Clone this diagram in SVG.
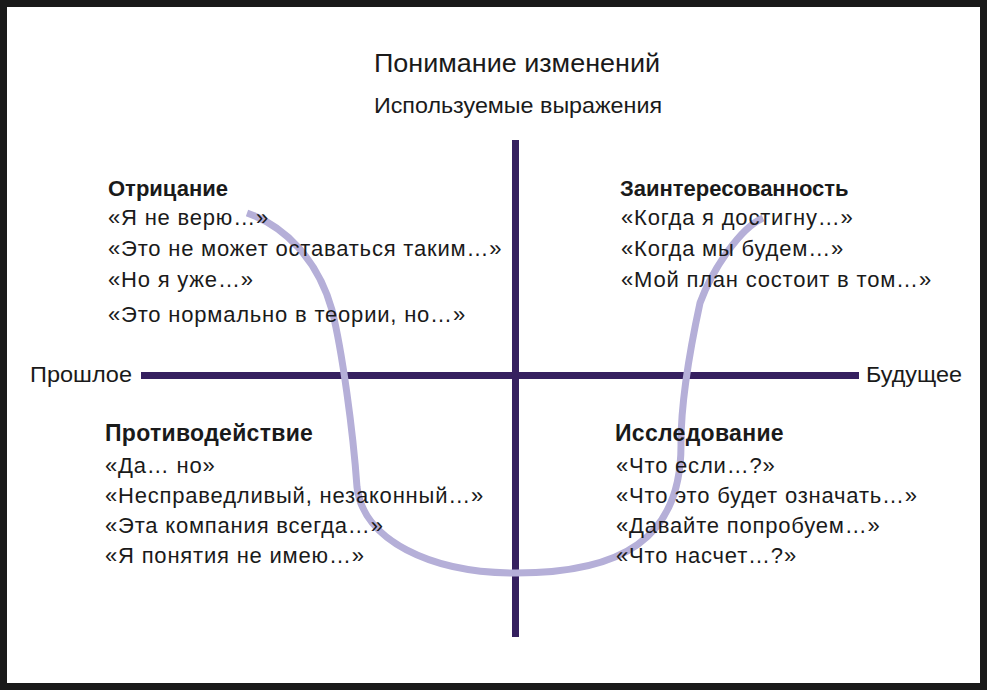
<svg xmlns="http://www.w3.org/2000/svg" width="987" height="690" viewBox="0 0 987 690">
<style>
.t{font-family:"Liberation Sans",Arial,sans-serif;font-size:22px;letter-spacing:0.8px;fill:#1a1a1a}
.h{font-family:"Liberation Sans",Arial,sans-serif;font-size:22px;font-weight:bold;fill:#1a1a1a}
.hb{font-family:"Liberation Sans",Arial,sans-serif;font-size:23px;font-weight:bold;letter-spacing:0.3px;fill:#1a1a1a}
.c{font-family:"Liberation Sans",Arial,sans-serif;fill:#1a1a1a}
.axis{stroke:#35205f;stroke-width:7;fill:none}
.curve{stroke:#b5afd8;stroke-width:7;fill:none;stroke-linecap:butt}
</style>
<rect x="3.5" y="3.5" width="980" height="683" fill="#ffffff" stroke="#1a1a1a" stroke-width="7"/>
<g id="title">
<text class="c" x="517" y="72" font-size="25" text-anchor="middle" textLength="286" lengthAdjust="spacingAndGlyphs">Понимание изменений</text>
<text class="c" x="518" y="113" font-size="22" text-anchor="middle" textLength="288" lengthAdjust="spacingAndGlyphs">Используемые выражения</text>
</g>
<g id="connectors">
<line class="axis" x1="515.5" y1="140" x2="515.5" y2="637"/>
<line class="axis" x1="141" y1="375.5" x2="859" y2="375.5"/>
<path class="curve" d="M247,213 C285,226 318,260 332,310 C342,350 353,430 357,487 C363,540 430,573 516,573 C620,573 682,540 681,443 C681,400 692,340 700,303 C712,270 740,228 763,218"/>
</g>
<g id="axis-labels">
<text class="c" x="30" y="382" font-size="22" textLength="102" lengthAdjust="spacingAndGlyphs">Прошлое</text>
<text class="c" x="866" y="382" font-size="22" textLength="96" lengthAdjust="spacingAndGlyphs">Будущее</text>
</g>
<g id="denial">
<text class="h" x="108" y="196">Отрицание</text>
<text class="t" x="108" y="225">«Я не верю…»</text>
<text class="t" x="108" y="256">«Это не может оставаться таким…»</text>
<text class="t" x="108" y="287">«Но я уже…»</text>
<text class="t" x="108" y="322">«Это нормально в теории, но…»</text>
</g>
<g id="commitment">
<text class="h" x="620" y="196">Заинтересованность</text>
<text class="t" x="621" y="225">«Когда я достигну…»</text>
<text class="t" x="621" y="256">«Когда мы будем…»</text>
<text class="t" x="621" y="287">«Мой план состоит в том…»</text>
</g>
<g id="resistance">
<text class="hb" x="105" y="441">Противодействие</text>
<text class="t" x="105" y="473">«Да… но»</text>
<text class="t" x="105" y="503">«Несправедливый, незаконный…»</text>
<text class="t" x="105" y="533">«Эта компания всегда…»</text>
<text class="t" x="105" y="563">«Я понятия не имею…»</text>
</g>
<g id="exploration">
<text class="hb" x="615" y="441">Исследование</text>
<text class="t" x="616" y="473">«Что если…?»</text>
<text class="t" x="616" y="503">«Что это будет означать…»</text>
<text class="t" x="616" y="533">«Давайте попробуем…»</text>
<text class="t" x="616" y="563">«Что насчет…?»</text>
</g>
</svg>
